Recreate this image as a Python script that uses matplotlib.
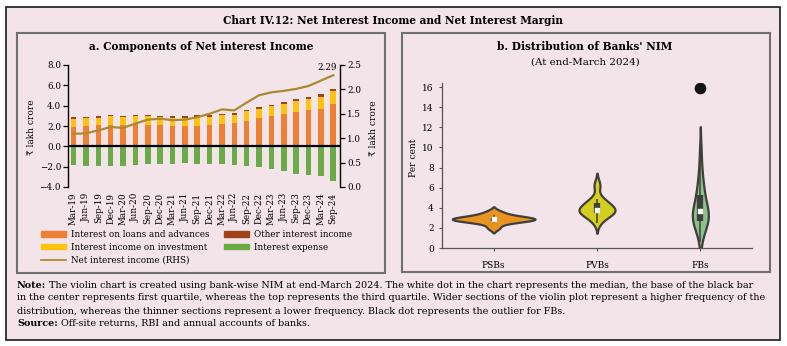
import numpy as np
import matplotlib.pyplot as plt
from matplotlib.mlab import GaussianKDE
from matplotlib.patches import Rectangle, Patch
from matplotlib.lines import Line2D

plt.rcParams['font.family'] = ['DejaVu Serif', 'DejaVu Sans']

# ---- panel a: components of net interest income (lakh crore) ----
quarters = ['Mar-19', 'Jun-19', 'Sep-19', 'Dec-19', 'Mar-20', 'Jun-20', 'Sep-20',
            'Dec-20', 'Mar-21', 'Jun-21', 'Sep-21', 'Dec-21', 'Mar-22', 'Jun-22',
            'Sep-22', 'Dec-22', 'Mar-23', 'Jun-23', 'Sep-23', 'Dec-23', 'Mar-24',
            'Sep-24']
loans = [1.9, 2.0, 2.1, 2.1, 2.1, 2.2, 2.1, 2.1, 2.0, 2.0, 2.0, 2.05, 2.2, 2.25,
         2.5, 2.75, 3.0, 3.2, 3.4, 3.55, 3.7, 4.15]
investment = [0.8, 0.8, 0.7, 0.85, 0.8, 0.75, 0.85, 0.8, 0.8, 0.8, 0.9, 0.85, 0.85,
              0.85, 0.95, 0.95, 0.95, 1.0, 1.1, 1.1, 1.2, 1.25]
other_income = [0.2, 0.1, 0.2, 0.1, 0.1, 0.1, 0.1, 0.1, 0.15, 0.15, 0.15, 0.15, 0.15,
                0.15, 0.15, 0.15, 0.1, 0.15, 0.15, 0.2, 0.2, 0.25]
expense = [-1.8, -1.9, -1.9, -1.9, -1.9, -1.85, -1.75, -1.75, -1.7, -1.65, -1.7, -1.7,
           -1.7, -1.8, -1.9, -2.05, -2.2, -2.4, -2.7, -2.85, -2.95, -3.4]
nii = [1.09, 1.10, 1.16, 1.23, 1.21, 1.30, 1.38, 1.40, 1.37, 1.38, 1.43, 1.50, 1.59,
       1.57, 1.73, 1.88, 1.94, 1.97, 2.01, 2.07, 2.18, 2.29]

# ---- panel b: bank-wise NIM at end-March 2024 (per cent) ----
groups = ['PSBs', 'PVBs', 'FBs']
psb_nim = [2.0, 2.5, 2.65, 2.75, 2.8, 2.85, 2.9, 2.95, 3.0, 3.1, 3.3, 3.6]
pvb_nim = [2.5, 2.9, 3.1, 3.3, 3.4, 3.5, 3.6, 3.6, 3.7, 3.8, 3.8, 3.9, 4.0, 4.1,
           4.3, 4.5, 4.6, 4.7, 4.9, 6.1, 6.4]
fb_nim = [0.6, 1.2, 1.6, 1.9, 2.1, 2.3, 2.4, 2.5, 2.6, 2.7, 2.8, 2.9, 3.0, 3.1, 3.2,
          3.3, 3.4, 3.5, 3.6, 3.7, 3.8, 3.9, 4.1, 4.3, 4.5, 4.7, 4.9, 5.1, 5.3, 5.6,
          5.9, 6.2, 6.5, 6.9, 7.4, 8.0, 9.0, 10.0]
fb_outlier = 15.9

c_loans = '#EF7F33'
c_inv = '#FFC20E'
c_other = '#A0431A'
c_exp = '#6AAB45'
c_line = '#A88B30'
violin_colors = ['#E8941F', '#D4CE1E', '#8DC286']
pink = '#F3E4E9'
dark = '#3F3F3F'

W, H = 787, 346
fig = plt.figure(figsize=(W / 100, H / 100), dpi=100)
fig.patch.set_facecolor('white')

# background layer in pixel coordinates for frames and free text
bg = fig.add_axes([0, 0, 1, 1], zorder=0)
bg.set_xlim(0, W)
bg.set_ylim(H, 0)
bg.axis('off')
bg.add_patch(Rectangle((6, 7), 774, 333, facecolor=pink, edgecolor='#1A1A1A', lw=1.2))
bg.add_patch(Rectangle((17, 33), 368, 240, facecolor=pink, edgecolor='#707070', lw=1.5))
bg.add_patch(Rectangle((402, 33), 368, 239, facecolor=pink, edgecolor='#707070', lw=1.5))


def px(x0, y0, x1, y1):
    return [x0 / W, 1 - y1 / H, (x1 - x0) / W, (y1 - y0) / H]


bg.text(393, 21, 'Chart IV.12: Net Interest Income and Net Interest Margin',
        ha='center', va='center', fontsize=7.6, fontweight='bold')
bg.text(201, 47, 'a. Components of Net interest Income', ha='center', va='center',
        fontsize=7.6, fontweight='bold')
bg.text(585, 47, "b. Distribution of Banks' NIM", ha='center', va='center',
        fontsize=7.6, fontweight='bold')
bg.text(585, 62, '(At end-March 2024)', ha='center', va='center', fontsize=7.4)

# ---- panel a ----
ax = fig.add_axes(px(68, 65, 340, 187), zorder=1)
ax.set_facecolor('none')
x = np.arange(len(quarters))
bw = 0.45
ax.bar(x, loans, bw, color=c_loans)
ax.bar(x, investment, bw, bottom=loans, color=c_inv)
ax.bar(x, other_income, bw, bottom=np.add(loans, investment), color=c_other)
ax.bar(x, expense, bw, color=c_exp)
ax.axhline(0, color='black', lw=1.6, zorder=3)
ax.set_xlim(-0.45, 21.55)
ax.set_ylim(-4, 8)
ax.set_yticks(np.arange(-4, 8.1, 2))
ax.yaxis.set_major_formatter('{x:.1f}')
ax.set_xticks(x, quarters, rotation=90)
ax.tick_params(axis='x', length=0, pad=4, labelsize=6.3)
ax.tick_params(axis='y', length=3.5, width=0.9, labelsize=6.3, pad=1.5)
for s in ['top', 'bottom', 'right']:
    ax.spines[s].set_visible(False)
ax.spines['left'].set_linewidth(1)

ax2 = ax.twinx()
ax2.set_facecolor('none')
ax2.plot(x, nii, color=c_line, lw=1.6)
ax2.set_ylim(0, 2.5)
ax2.set_yticks(np.arange(0, 2.51, 0.5))
ax2.yaxis.set_major_formatter('{x:.1f}')
ax2.tick_params(axis='y', length=3.5, width=0.9, labelsize=6.3, pad=1.5)
for s in ['top', 'bottom', 'left']:
    ax2.spines[s].set_visible(False)
ax2.spines['right'].set_linewidth(1)
ax2.annotate(f'{nii[-1]:.2f}', xy=(x[-1], nii[-1]), xytext=(3, 2),
             textcoords='offset points', ha='right', va='bottom', fontsize=6.3)

bg.text(32, 127, '₹ lakh crore', rotation=90, ha='center', va='center', fontsize=6.5)
bg.text(373, 128, '₹ lakh crore', rotation=90, ha='center', va='center', fontsize=6.5)

handles = [Patch(color=c_loans), Patch(color=c_inv), Line2D([], [], color=c_line, lw=1.3),
           Patch(color=c_other), Patch(color=c_exp)]
labels = ['Interest on loans and advances', 'Interest income on investment',
          'Net interest income (RHS)', 'Other interest income', 'Interest expense']
bg.legend(handles, labels, loc='upper left', bbox_to_anchor=(41, 230),
          bbox_transform=bg.transData, ncol=2, frameon=False, fontsize=6.3,
          handlelength=2.9, handleheight=0.55, handletextpad=0.55,
          labelspacing=0.45, columnspacing=1.6, borderaxespad=0, borderpad=0)

# ---- panel b ----
axv = fig.add_axes(px(442, 83, 752, 248), zorder=1)
axv.set_facecolor('none')


def violin_stats(vals, cut=2, n=300):
    vals = np.asarray(vals, float)
    kde = GaussianKDE(vals, 'scott')
    h = np.sqrt(kde.covariance[0, 0])
    coords = np.linspace(vals.min() - cut * h, vals.max() + cut * h, n)
    return dict(coords=coords, vals=kde.evaluate(coords), mean=vals.mean(),
                median=np.median(vals), min=vals.min(), max=vals.max())


data = [psb_nim, pvb_nim, fb_nim]
stats = [violin_stats(v) for v in data]
peaks = np.array([s['vals'].max() for s in stats])
widths = 0.8 * peaks / peaks.max()
pos = np.arange(len(groups))
parts = axv.violin(stats, positions=pos, widths=widths, showmeans=False,
                   showextrema=False, showmedians=False)
for body, c in zip(parts['bodies'], violin_colors):
    body.set_facecolor(c)
    body.set_edgecolor(dark)
    body.set_linewidth(1.6)
    body.set_alpha(1)

for p, v in zip(pos, data):
    v = np.asarray(v)
    q1, med, q3 = np.percentile(v, [25, 50, 75])
    iqr = q3 - q1
    lo = v[v >= q1 - 1.5 * iqr].min()
    hi = v[v <= q3 + 1.5 * iqr].max()
    axv.vlines(p, lo, hi, color=dark, lw=1.1, zorder=3)
    axv.vlines(p, q1, q3, color=dark, lw=4.5, zorder=3)
    axv.scatter(p, med, s=7, marker='s', color='white', zorder=4)

axv.scatter(2, fb_outlier, s=55, color='#151515', zorder=4)

axv.set_xlim(-0.5, 2.5)
axv.set_ylim(0, 16.4)
axv.set_yticks(np.arange(0, 16.1, 2))
axv.set_xticks(pos, groups)
for s in ['top', 'right']:
    axv.spines[s].set_visible(False)
for s in ['left', 'bottom']:
    axv.spines[s].set_color('#555555')
    axv.spines[s].set_linewidth(0.9)
axv.tick_params(colors='#555555', labelcolor='black', length=2.5, width=0.8,
                labelsize=6.5)
axv.tick_params(axis='x', pad=7)
bg.text(413, 158, 'Per cent', rotation=90, ha='center', va='center', fontsize=6.5)

# ---- notes ----
nfs = 6.95
t = bg.text(17, 285, 'Note:', ha='left', va='center', fontsize=nfs, fontweight='bold')
bg.annotate(' The violin chart is created using bank-wise NIM at end-March 2024. The white '
            'dot in the chart represents the median, the base of the black bar',
            xy=(1, 0), xycoords=t, ha='left', va='bottom', fontsize=nfs)
bg.text(17, 298, 'in the center represents first quartile, whereas the top represents the '
        'third quartile. Wider sections of the violin plot represent a higher frequency of the',
        ha='left', va='center', fontsize=nfs)
bg.text(17, 311, 'distribution, whereas the thinner sections represent a lower frequency. '
        'Black dot represents the outlier for FBs.', ha='left', va='center', fontsize=nfs)
t = bg.text(17, 323, 'Source:', ha='left', va='center', fontsize=nfs, fontweight='bold')
bg.annotate(' Off-site returns, RBI and annual accounts of banks.', xy=(1, 0),
            xycoords=t, ha='left', va='bottom', fontsize=nfs)

fig.savefig('out.png', dpi=100)
